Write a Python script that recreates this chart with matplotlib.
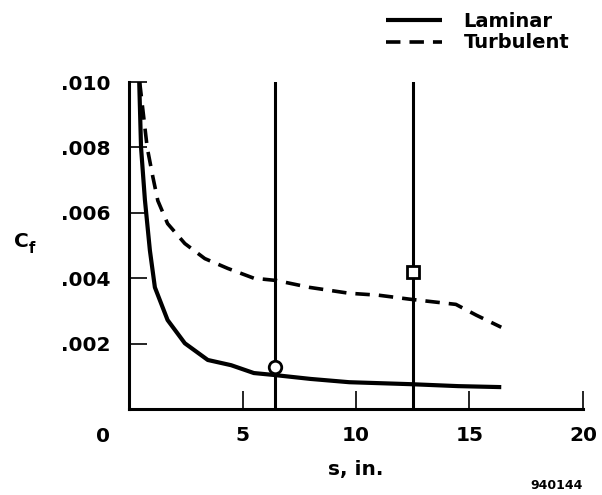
import matplotlib.pyplot as plt

plt.rcParams['font.family'] = ['DejaVu Sans']
plt.rcParams['font.weight'] = 'bold'

# laminar skin friction
s_lam = [0.45, 0.53, 0.7, 0.92, 1.14, 1.7, 2.46, 3.47, 4.5, 5.5, 6.4, 8.0, 9.7, 12.4, 14.5, 16.4]
cf_lam = [0.0100, 0.0080, 0.0064, 0.00485, 0.00372, 0.00272, 0.00201, 0.0015, 0.00134,
          0.0011, 0.00104, 0.00092, 0.00082, 0.00076, 0.0007, 0.00067]

# turbulent skin friction
s_turb = [0.47, 0.8, 1.05, 1.27, 1.7, 2.46, 3.34, 4.35, 5.5, 6.5, 7.95, 9.7, 11.0, 12.35,
          14.4, 15.3, 16.4]
cf_turb = [0.0100, 0.0080, 0.0071, 0.00637, 0.00567, 0.00506, 0.0046, 0.0043, 0.0040,
           0.00393, 0.00372, 0.00354, 0.00348, 0.00336, 0.0032, 0.00287, 0.0025]

# measurement stations
s_stations = [6.42, 12.5]
cf_circle = 0.00128
cf_square = 0.00418

x_ticks = [5, 10, 15, 20]
y_ticks = [0.002, 0.004, 0.006, 0.008, 0.010]
y_labels = ['.002', '.004', '.006', '.008', '.010']

fig = plt.figure(figsize=(6.02, 4.95), dpi=100)
ax = fig.add_axes([0.2143, 0.1737, 0.7541, 0.6606])

lam, = ax.plot(s_lam, cf_lam, color='black', lw=3.0, solid_capstyle='butt')
turb, = ax.plot(s_turb, cf_turb, color='black', lw=2.6, linestyle=(0, (4, 2.5)))

for s in s_stations:
    ax.plot([s, s], [0, 0.010], color='black', lw=2.2)
ax.plot(s_stations[0], cf_circle, 'o', ms=9, mfc='white', mec='black', mew=2)
ax.plot(s_stations[1], cf_square, 's', ms=9, mfc='white', mec='black', mew=2)

ax.set_xlim(0, 20)
ax.set_ylim(0, 0.010)
for side in ['top', 'right']:
    ax.spines[side].set_visible(False)
for side in ['left', 'bottom']:
    ax.spines[side].set_linewidth(2.2)

ax.set_xticks(x_ticks)
ax.set_xticklabels([str(t) for t in x_ticks], fontsize=14.5, fontweight='bold')
ax.set_yticks(y_ticks)
ax.set_yticklabels(y_labels, fontsize=14.5, fontweight='bold')
ax.tick_params(axis='both', direction='in', length=13, width=1.2)
ax.tick_params(axis='x', pad=12)
ax.tick_params(axis='y', pad=13)

# the zero label sits left of the spine in the original
ax.text(-1.15, -0.00085, '0', fontsize=14.5, fontweight='bold', ha='center', va='center',
        clip_on=False)

ax.set_xlabel('s, in.', fontsize=14.5, fontweight='bold', labelpad=11)
fig.text(0.035, 0.513, 'C', fontsize=14.5, fontweight='bold', ha='center', va='center')
fig.text(0.053, 0.497, 'f', fontsize=10.5, fontweight='bold', ha='center', va='center')

fig.legend([lam, turb], ['Laminar', 'Turbulent'], loc='upper left',
           bbox_to_anchor=(0.612, 1.012), frameon=False, fontsize=14,
           handlelength=2.9, handletextpad=1.1, labelspacing=0.15)

fig.text(0.925, 0.006, '940144', fontsize=9, fontweight='bold', ha='center', va='bottom')

fig.savefig('out.png', dpi=100)
